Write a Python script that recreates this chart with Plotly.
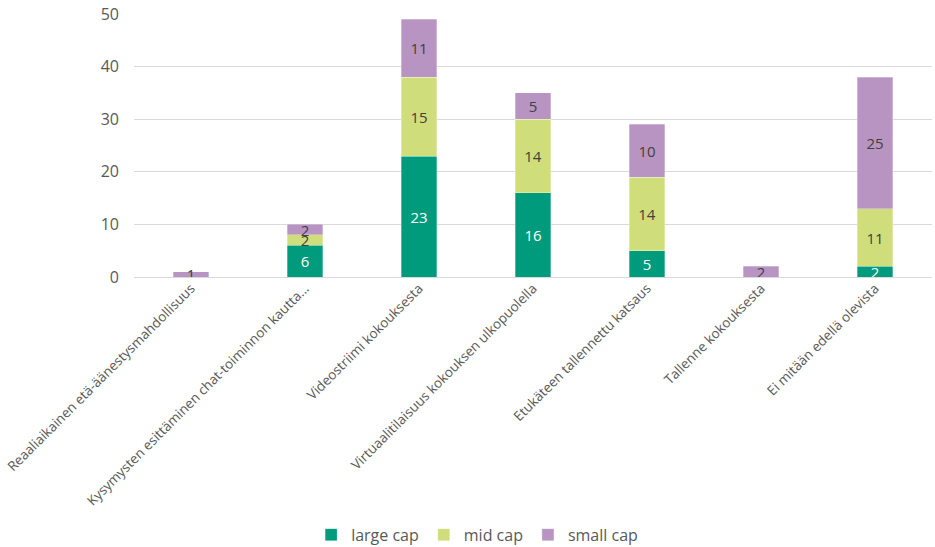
import plotly.graph_objects as go

categories = [
    "Reaaliaikainen etä-äänestysmahdollisuus",
    "Kysymysten esittäminen chat-toiminnon kautta…",
    "Videostriimi kokouksesta",
    "Virtuaalitilaisuus kokouksen ulkopuolella",
    "Etukäteen tallennettu katsaus",
    "Tallenne kokouksesta",
    "Ei mitään edellä olevista",
]
large_cap = [0, 6, 23, 16, 5, 0, 2]
mid_cap = [0, 2, 15, 14, 14, 0, 11]
small_cap = [1, 2, 11, 5, 10, 2, 25]

series = [
    ("large cap", large_cap, "#009A7C", "#FFFFFF"),
    ("mid cap", mid_cap, "#CFDE7A", "#404040"),
    ("small cap", small_cap, "#B894C2", "#404040"),
]

fig = go.Figure()
for name, vals, color, tcolor in series:
    fig.add_trace(go.Bar(
        name=name, x=categories, y=vals,
        marker=dict(color=color, line=dict(color="rgba(255,255,255,0.6)", width=0.5)),
        text=[str(v) if v else "" for v in vals],
        textposition="inside", insidetextanchor="middle",
        constraintext="none", textangle=0,
        textfont=dict(color=tcolor, size=15, family="Open Sans"),
        hoverinfo="skip",
    ))

fig.update_layout(
    barmode="stack", bargap=0.685,
    width=935, height=547,
    margin=dict(l=134, r=3, t=14, b=270, autoexpand=False),
    paper_bgcolor="white", plot_bgcolor="white",
    font=dict(family="Open Sans", color="#595959"),
    showlegend=True,
    legend=dict(orientation="h", x=0.43, xanchor="center", y=-0.98, yanchor="middle",
                font=dict(size=16, color="#595959"), traceorder="normal",
                itemwidth=30, tracegroupgap=0),
)
fig.update_xaxes(tickangle=-45, tickfont=dict(size=13.5, color="#595959"),
                 showgrid=False, showline=False, ticks="", automargin=False)
fig.update_yaxes(range=[0, 50], dtick=10, tickfont=dict(size=16, color="#595959"),
                 showgrid=True, gridcolor="#D9D9D9", gridwidth=1, zeroline=True,
                 zerolinecolor="#D9D9D9", zerolinewidth=1, ticklabelstandoff=14,
                 automargin=False)

fig.write_html("out.html", config={"displayModeBar": False},
               post_script="document.body.style.margin='0';document.body.style.overflow='hidden';")
